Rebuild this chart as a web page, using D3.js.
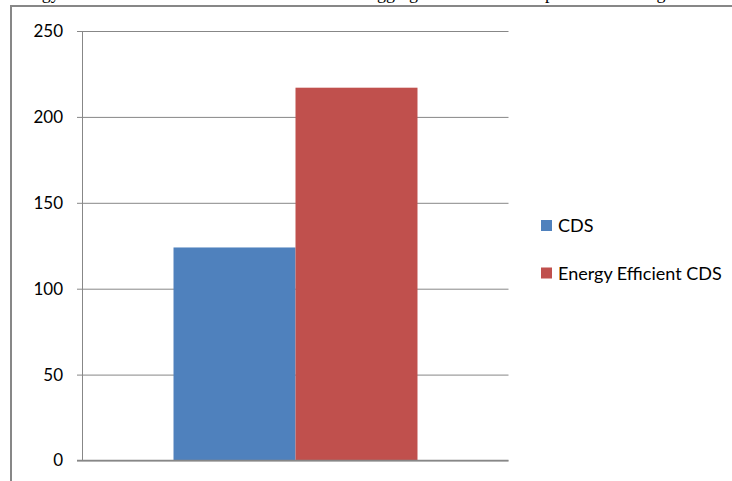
<!DOCTYPE html>
<html>
<head>
<meta charset="utf-8">
<script src="https://cdn.jsdelivr.net/npm/d3@7"></script>
<style>
  html, body { margin: 0; padding: 0; background: #fff; overflow: hidden; }
  svg { display: block; }
</style>
</head>
<body>
<svg id="chart" width="732" height="481"></svg>
<script>
// Chart data
const categories = ["1"];
const seriesNames = ["CDS", "Energy Efficient CDS"];
const seriesValues = [124, 217];
const seriesColors = ["#4F81BD", "#C0504D"];
const yTicks = [0, 50, 100, 150, 200, 250];

// Caption text running above the frame (clipped by the page top)
const captionParts = [
  { text: "Energy Consumed for Data Collection with", x: 8 },
  { text: "aggregation in the", x: 369 },
  { text: "phase of the ring", x: 545 }
];

const svg = d3.select("#chart");
const W = 732, H = 481;

// Plot area
const plot = { left: 82.5, right: 508.5, top: 31, bottom: 460.5 };

const y = d3.scaleLinear().domain([0, 250]).range([plot.bottom, plot.top]);
const x0 = d3.scaleBand().domain(categories).range([plot.left, plot.right])
  .paddingInner(0).paddingOuter(0.373);
const x1 = d3.scaleBand().domain(seriesNames).range([0, x0.bandwidth()]).padding(0);

// Caption
const cap = svg.append("g")
  .attr("font-family", "'Liberation Serif', 'Times New Roman', serif")
  .attr("font-size", 18)
  .attr("fill", "#000");
captionParts.forEach(p => {
  cap.append("text").attr("x", p.x).attr("y", -1).text(p.text);
});

// Frame lines
svg.append("line").attr("x1", 11).attr("x2", W).attr("y1", 6).attr("y2", 6)
  .attr("stroke", "#878787").attr("stroke-width", 2);
svg.append("line").attr("x1", 11).attr("x2", 11).attr("y1", 5).attr("y2", H)
  .attr("stroke", "#878787").attr("stroke-width", 2);

// Horizontal gridlines and value axis
const yAxis = d3.axisLeft(y)
  .tickValues(yTicks)
  .tickSize(-(plot.right - plot.left))
  .tickPadding(19.5)
  .tickFormat(d3.format("d"));

const gy = svg.append("g")
  .attr("transform", `translate(${plot.left},0)`)
  .call(yAxis);
gy.select(".domain").remove();
gy.selectAll(".tick line")
  .attr("x1", -5.5)
  .attr("stroke", "#878787")
  .attr("stroke-width", 1);
gy.selectAll(".tick text")
  .attr("font-family", "Lato, 'Open Sans', sans-serif")
  .attr("font-size", 17)
  .attr("fill", "#000");

// Vertical axis line
svg.append("line")
  .attr("x1", plot.left).attr("x2", plot.left)
  .attr("y1", plot.top).attr("y2", plot.bottom)
  .attr("stroke", "#878787").attr("stroke-width", 1);

// Bars
const groups = svg.append("g").selectAll("g")
  .data(categories)
  .join("g")
  .attr("transform", d => `translate(${x0(d)},0)`);

groups.selectAll("rect")
  .data(() => seriesNames.map((s, i) => ({ s, v: seriesValues[i], c: seriesColors[i] })))
  .join("rect")
  .attr("x", d => x1(d.s))
  .attr("width", x1.bandwidth())
  .attr("y", d => y(d.v))
  .attr("height", d => y(0) - y(d.v))
  .attr("fill", d => d.c);

// Category axis line
svg.append("line")
  .attr("x1", plot.left - 5.5).attr("x2", plot.right)
  .attr("y1", plot.bottom).attr("y2", plot.bottom)
  .attr("stroke", "#878787").attr("stroke-width", 1.5);

// Legend
const legend = svg.append("g").attr("transform", "translate(541,220)");
const items = legend.selectAll("g")
  .data(seriesNames)
  .join("g")
  .attr("transform", (d, i) => `translate(0,${i * 47.5})`);
items.append("rect")
  .attr("width", 11).attr("height", 11)
  .attr("fill", (d, i) => seriesColors[i]);
items.append("text")
  .attr("x", 17).attr("y", 12)
  .attr("font-family", "Lato, 'Open Sans', sans-serif")
  .attr("font-size", 18)
  .attr("fill", "#000")
  .text(d => d);
</script>
</body>
</html>
